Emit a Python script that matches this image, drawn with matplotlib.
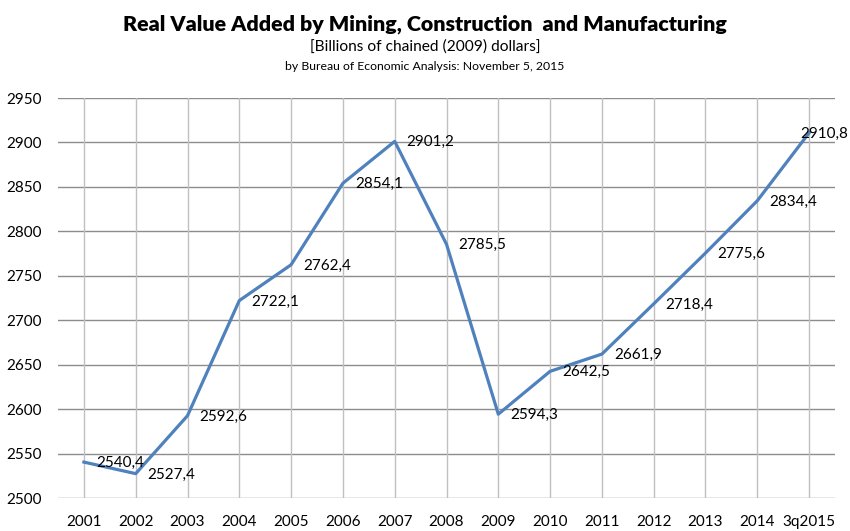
import matplotlib
matplotlib.use("Agg")
import matplotlib.pyplot as plt

categories = ["2001", "2002", "2003", "2004", "2005", "2006", "2007", "2008",
              "2009", "2010", "2011", "2012", "2013", "2014", "3q2015"]
values = [2540.4, 2527.4, 2592.6, 2722.1, 2762.4, 2854.1, 2901.2, 2785.5,
          2594.3, 2642.5, 2661.9, 2718.4, 2775.6, 2834.4, 2910.8]
yticks = [2500, 2550, 2600, 2650, 2700, 2750, 2800, 2850, 2900, 2950]

plt.rcParams['font.family'] = ['Lato', 'DejaVu Sans']

fig = plt.figure(figsize=(8.5, 5.31), dpi=100)
ax = fig.add_axes([58/850, 1-498/531, (835-58)/850, (498-98)/531])

x = list(range(len(categories)))
ax.plot(x, values, color="#4F81BD", linewidth=2.3, solid_joinstyle='round', zorder=3)

for i, v in enumerate(values):
    lab = f"{v:.1f}".replace(".", ",")
    dx = 12 if i < len(values) - 1 else -9
    ax.annotate(lab, (i, v), xytext=(dx, -1), textcoords="offset pixels",
                ha="left", va="center", fontsize=11, color="black", zorder=4,
                annotation_clip=False)

ax.set_xlim(-0.5, len(categories) - 0.5)
ax.set_ylim(2500, 2950)
ax.set_yticks(yticks)
ax.set_xticks(x)
ax.set_xticklabels(categories)
ax.tick_params(axis='both', length=0, labelsize=11, colors="black")
ax.tick_params(axis='x', pad=12)
ax.tick_params(axis='y', pad=12)

for yv in yticks:
    ax.axhline(yv, color="#8C8C8C", linewidth=1.0, zorder=1)
for xi in x:
    ax.axvline(xi, color="#C0C0C0", linewidth=1.0, zorder=1)
for s in ax.spines.values():
    s.set_visible(False)

fig.text(0.5, 1-24/531, "Real Value Added by Mining, Construction  and Manufacturing",
         ha="center", va="center", fontsize=15.4, fontweight="heavy")
fig.text(0.5, 1-47/531, "[Billions of chained (2009) dollars]",
         ha="center", va="center", fontsize=11.2)
fig.text(0.5, 1-67/531, "by Bureau of Economic Analysis: November 5, 2015",
         ha="center", va="center", fontsize=8.8)

fig.savefig("out.png", dpi=100)
